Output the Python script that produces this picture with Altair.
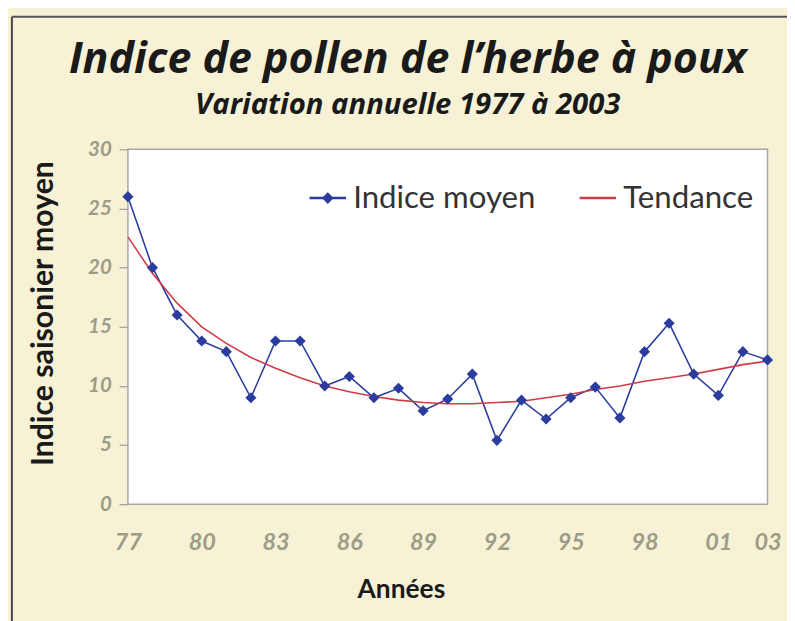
import altair as alt
import pandas as pd

years = list(range(1977, 2004))
indice_moyen = [26.0, 20.0, 16.0, 13.8, 12.9, 9.0, 13.8, 13.8, 10.0, 10.8, 9.0, 9.8, 7.9, 8.9,
                11.0, 5.4, 8.8, 7.2, 9.0, 9.9, 7.3, 12.9, 15.3, 11.0, 9.2, 12.9, 12.2]
tendance = [22.6, 19.5, 17.0, 15.0, 13.6, 12.4, 11.5, 10.7, 10.0, 9.5, 9.1, 8.8, 8.6, 8.5,
            8.5, 8.6, 8.7, 9.0, 9.3, 9.7, 10.0, 10.4, 10.7, 11.0, 11.4, 11.8, 12.1]
series_names = ["Indice moyen", "Tendance"]
x_ticks = [1977, 1980, 1983, 1986, 1989, 1992, 1995, 1998, 2001, 2003]
y_ticks = [0, 5, 10, 15, 20, 25, 30]

BLUE = "#2b3c9e"
RED = "#d23a48"
BG = "#f7f1d6"
FONT = "Lato"
TFONT = "Open Sans"
DIAMOND = "M0,-0.32L0.32,0L0,0.32L-0.32,0Z"

long_df = pd.DataFrame({
    "year": years + years,
    "value": indice_moyen + tendance,
    "series": [series_names[0]] * len(years) + [series_names[1]] * len(years),
})
pts_df = pd.DataFrame({"year": years, "value": indice_moyen})
legend_df = pd.DataFrame({"year": [years[0]], "value": [indice_moyen[0]], "series": [series_names[0]]})

x_enc = alt.X(
    "year:Q",
    scale=alt.Scale(domain=[1977, 2003], nice=False, zero=False),
    axis=alt.Axis(
        values=x_ticks, labelExpr="substring(toString(datum.value), 2)",
        ticks=False, domain=False, grid=False, labelFlush=False, labelOverlap=False,
        labelFont=FONT, labelFontSize=24, labelFontStyle="italic", labelFontWeight="bold",
        labelColor="#9d9c86", labelPadding=27,
        title="Années", titleFont=FONT, titleFontSize=27, titleFontWeight="bold",
        titleColor="#1a1a1a", titleX=280, titleY=88, titleAlign="center", titleBaseline="middle",
    ),
)
y_enc = alt.Y(
    "value:Q",
    scale=alt.Scale(domain=[0, 30], nice=False),
    axis=alt.Axis(
        values=y_ticks, tickSize=9, tickColor="#9a9a9a", tickWidth=1.2, domain=False, grid=False,
        labelFont=FONT, labelFontSize=21, labelFontStyle="italic", labelFontWeight="bold",
        labelColor="#9d9c86", labelPadding=8,
        title="Indice saisonier moyen", titleFont=FONT, titleFontSize=31, titleFontWeight="bold",
        titleColor="#1a1a1a", titleX=-86, titleY=168, titleAngle=270,
        titleAlign="center", titleBaseline="middle",
    ),
)

common_legend = dict(orient="none", legendX=185, legendY=30, direction="horizontal", title=None,
                     labelFont=FONT, labelFontSize=32, labelLimit=400, labelOffset=6,
                     symbolSize=1400, symbolStrokeWidth=2.5, columnPadding=39)

lines = alt.Chart(long_df).mark_line(strokeWidth=1.6).encode(
    x=x_enc, y=y_enc,
    color=alt.Color("series:N", scale=alt.Scale(domain=series_names, range=[BLUE, RED]),
                    legend=alt.Legend(symbolType="stroke", labelColor="#333333", zindex=1,
                                      **common_legend)),
)
points = alt.Chart(pts_df).mark_point(shape="diamond", filled=True, size=130, color=BLUE, opacity=1).encode(
    x="year:Q", y="value:Q"
)
legend_layer = alt.Chart(legend_df).mark_point(filled=True, color=BLUE, opacity=0).encode(
    x="year:Q", y="value:Q",
    shape=alt.Shape("series:N", scale=alt.Scale(domain=[series_names[0]], range=[DIAMOND]),
                    legend=alt.Legend(symbolFillColor=BLUE, symbolOpacity=1, labelColor="transparent",
                                      zindex=2, **common_legend)),
)

frame_df = pd.DataFrame({"k": [0]})
frame_v = alt.Chart(frame_df).mark_rule(color="#444444", strokeWidth=2).encode(
    x=alt.value(-119), y=alt.value(-136), y2=alt.value(520))
frame_h = alt.Chart(frame_df).mark_rule(color="#555555", strokeWidth=2).encode(
    x=alt.value(-119), x2=alt.value(700), y=alt.value(-136))

chart = alt.layer(frame_v, frame_h, lines, points, legend_layer).properties(
    width=656, height=364,
    padding={"left": 123, "top": 137, "right": 20, "bottom": 120},
    autosize=alt.AutoSizeParams(type="none"),
    background=BG,
    title=alt.TitleParams(
        text="Indice de pollen de l’herbe à poux", subtitle="Variation annuelle 1977 à 2003",
        anchor="middle", dx=-41, offset=-107,
        font=TFONT, fontSize=44, fontStyle="italic", fontWeight="bold", color="#1a1a1a",
        subtitleFont=TFONT, subtitleFontSize=30, subtitleFontStyle="italic",
        subtitleFontWeight="bold", subtitleColor="#1a1a1a", subtitlePadding=9,
    ),
).configure_view(fill="white", stroke="#a8a8a8", strokeWidth=1.5)

chart.save("out.html", embed_options={"renderer": "svg", "actions": False})
